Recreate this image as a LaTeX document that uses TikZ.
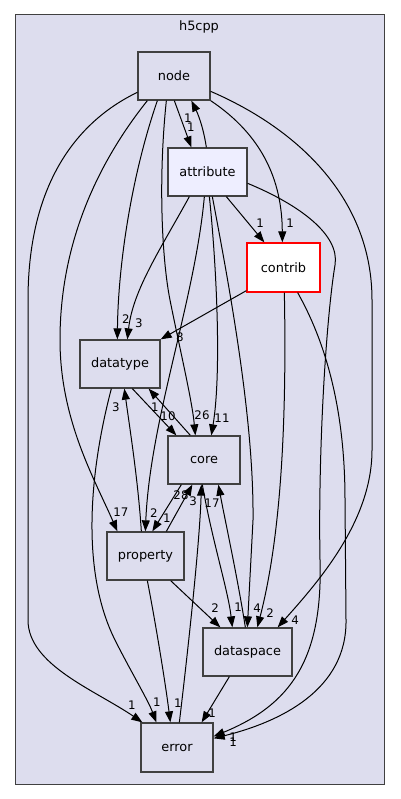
\documentclass[tikz,border=0pt]{standalone}
\usepackage{fontspec}
\setmainfont{DejaVu Sans}
\usetikzlibrary{arrows.meta}
\definecolor{clfill}{HTML}{DDDDEE}
\definecolor{attrfill}{HTML}{EEEEFF}
\definecolor{boxgray}{HTML}{404040}
\begin{document}
\begin{tikzpicture}[x=1pt,y=-1pt,
  box/.style={draw=boxgray, line width=1.3pt, fill=clfill, minimum height=48pt, inner sep=0pt, font=\fontsize{12.9}{15}\selectfont},
  conn/.style={draw=black, line width=1pt, -{Triangle[length=11pt,width=8pt]}},
  lbl/.style={font=\fontsize{11.8}{13}\selectfont, inner sep=0pt}]
\useasboundingbox (0,0) rectangle (400,799);
\fill[white] (0,0) rectangle (400,799);
\draw[draw=boxgray, fill=clfill, line width=1pt] (15,15) rectangle (384,784);
\node[font=\fontsize{12.9}{15}\selectfont, inner sep=0pt] (title) at (199,27) {h5cpp};

\node[box, minimum width=72pt] (nd) at (174,76) {node};
\node[box, minimum width=79pt, fill=attrfill] (attr) at (207.5,172) {attribute};
\node[box, minimum width=73pt, minimum height=49pt, fill=white, draw=red] (contrib) at (283.5,267.5) {contrib};
\node[box, minimum width=80pt] (dtype) at (120,364) {datatype};
\node[box, minimum width=72pt] (core) at (204,460) {core};
\node[box, minimum width=77pt] (prop) at (145.5,556) {property};
\node[box, minimum width=89pt] (dspace) at (247.5,652) {dataspace};
\node[box, minimum width=72pt, minimum height=49pt] (err) at (177,747.5) {error};

% node -> attribute / attribute -> node
\draw[conn] ([xshift=37pt]nd.south west) -- ([xshift=24pt]attr.north west);
\draw[conn] ([xshift=39pt]attr.north west) .. controls (203,125) and (197,112) .. ([xshift=54pt]nd.south west);
% to datatype
\draw[conn] ([xshift=20pt]nd.south west) .. controls (130,180) and (118,270) .. ([xshift=38pt]dtype.north west);
\draw[conn] ([xshift=22pt]attr.south west) .. controls (160,250) and (133,290) .. ([xshift=48pt]dtype.north west);
\draw[conn] ([yshift=2pt]contrib.south west) -- (dtype.north east);
% datatype <-> core
\draw[conn] ([xshift=53pt]dtype.south west) -- ([xshift=9pt]core.north west);
\draw[conn] ([xshift=23pt]core.north west) -- ([xshift=-12pt]dtype.south east);
% to core from above
\draw[conn] ([xshift=29pt]nd.south west) .. controls (158,180) and (162,260) .. (170,300) .. controls (180,350) and (192,400) .. ([xshift=28pt]core.north west);
\draw[conn] ([xshift=42pt]attr.south west) .. controls (216,260) and (222,370) .. ([xshift=44pt]core.north west);
% attribute -> property, dataspace, contrib
\draw[conn] ([xshift=37pt]attr.south west) .. controls (195,300) and (150,420) .. ([xshift=39pt]prop.north west);
\draw[conn] ([xshift=45pt]attr.south west) .. controls (230,290) and (254,420) .. (253,520) -- ([xshift=45pt]dspace.north west);
\draw[conn] ([xshift=59pt]attr.south west) -- ([xshift=18pt]contrib.north west);
% node -> contrib, dataspace, error, property
\draw[conn] (nd.south east) .. controls (262,135) and (282,180) .. ([xshift=36pt]contrib.north west);
\draw[conn] ([yshift=-40pt]nd.north east) .. controls (300,130) and (372,200) .. (372,300) -- (372,450) .. controls (372,520) and (320,580) .. ([xshift=-15pt]dspace.north east);
\draw[conn] ([yshift=-41pt]nd.north west) .. controls (80,120) and (28,180) .. (28,300) -- (28,620) .. controls (28,665) and (95,690) .. ([xshift=2pt]err.north west);
\draw[conn] ([xshift=10pt]nd.south west) .. controls (100,160) and (60,240) .. (60,340) .. controls (60,420) and (95,480) .. ([xshift=11pt]prop.north west);
% to error
\draw[conn] ([xshift=32pt]dtype.south west) .. controls (90,470) and (80,570) .. (115,640) .. controls (130,670) and (148,700) .. ([xshift=16pt]err.north west);
\draw[conn] ([xshift=41pt]prop.south west) .. controls (155,620) and (165,680) .. ([xshift=30pt]err.north west);
\draw[conn] ([xshift=27pt]dspace.south west) -- ([xshift=-12pt]err.north east);
\draw[conn] ([yshift=-36pt]attr.north east) .. controls (300,205) and (340,235) .. (335,265) .. controls (326,320) and (318,450) .. (320,560) .. controls (323,660) and (290,705) .. ([yshift=-14pt]err.north east);
\draw[conn] ([xshift=-23pt]contrib.south east) .. controls (330,350) and (345,420) .. (345,500) -- (346,620) .. controls (347,690) and (280,722) .. ([yshift=-16pt]err.north east);
% error -> core
\draw[conn] ([xshift=39pt]err.north west) .. controls (188,650) and (200,540) .. ([xshift=34pt]core.south west);
% property <-> core, datatype
\draw[conn] ([xshift=35pt]prop.north west) .. controls (138,480) and (130,430) .. ([xshift=45pt]dtype.south west);
\draw[conn] ([xshift=60pt]prop.north west) -- ([xshift=25pt]core.south west);
\draw[conn] ([xshift=14pt]core.south west) -- ([xshift=46pt]prop.north west);
% core <-> dataspace
\draw[conn] ([xshift=35pt]core.south west) .. controls (212,540) and (228,590) .. ([xshift=30pt]dspace.north west);
\draw[conn] ([xshift=43pt]dspace.north west) .. controls (238,580) and (225,520) .. ([xshift=51pt]core.south west);
% contrib, property -> dataspace
\draw[conn] ([xshift=38pt]contrib.south west) .. controls (287,430) and (280,540) .. ([xshift=55pt]dspace.north west);
\draw[conn] ([xshift=-14pt]prop.south east) -- ([xshift=18pt]dspace.north west);

% labels
\node[lbl] (l1) at (191,127) {1};
\node[lbl] (l2) at (188,118) {1};
\node[lbl] (l3) at (126,319) {2};
\node[lbl] (l4) at (139,323) {3};
\node[lbl] (l5) at (180,337) {8};
\node[lbl] (l6) at (168,416) {10};
\node[lbl] (l7) at (155,407) {1};
\node[lbl] (l8) at (202,415) {26};
\node[lbl] (l9) at (222,418) {11};
\node[lbl] (l10) at (260,223) {1};
\node[lbl] (l11) at (290,223) {1};
\node[lbl] (l12) at (121,512) {17};
\node[lbl] (l13) at (154,513) {2};
\node[lbl] (l14) at (167,518) {1};
\node[lbl] (l15) at (116,407) {3};
\node[lbl] (l16) at (181,495) {28};
\node[lbl] (l17) at (193,501) {3};
\node[lbl] (l18) at (212,503) {17};
\node[lbl] (l19) at (215,608) {2};
\node[lbl] (l20) at (238,607) {1};
\node[lbl] (l21) at (257,608) {4};
\node[lbl] (l22) at (270,613) {2};
\node[lbl] (l23) at (295,620) {4};
\node[lbl] (l24) at (132,705) {1};
\node[lbl] (l25) at (157,702) {1};
\node[lbl] (l26) at (178,703) {1};
\node[lbl] (l27) at (212,713) {1};
\node[lbl] (l28) at (233,737) {1};
\node[lbl] (l29) at (233,742) {1};
\end{tikzpicture}
\end{document}
